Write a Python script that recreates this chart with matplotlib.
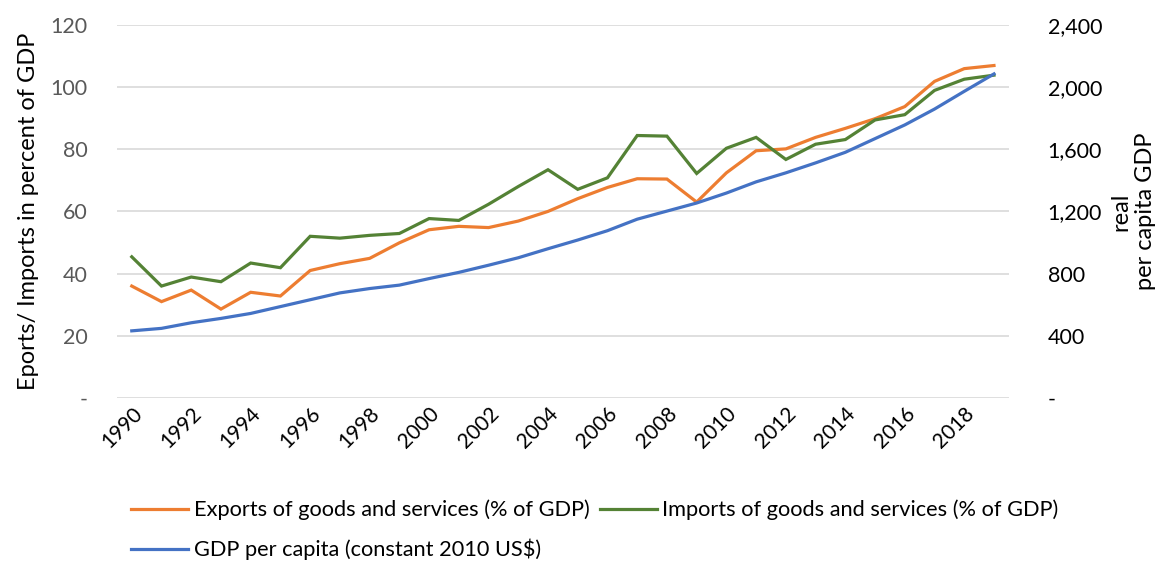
import numpy as np
import matplotlib
matplotlib.use("Agg")
import matplotlib.pyplot as plt
from matplotlib.ticker import FuncFormatter

plt.rcParams['font.family'] = ['Lato', 'DejaVu Sans']

# data
years = list(range(1990, 2020))
exports = [36.0, 31.0, 34.7, 28.6, 34.0, 32.8, 41.0, 43.2, 44.9, 49.9,
           54.1, 55.2, 54.8, 56.9, 60.0, 64.1, 67.7, 70.5, 70.4, 63.0,
           72.4, 79.5, 80.1, 83.8, 86.7, 89.8, 93.7, 101.8, 105.9, 106.9]
imports = [45.4, 36.0, 38.9, 37.4, 43.4, 41.9, 52.0, 51.4, 52.3, 52.9,
           57.7, 57.1, 62.3, 68.0, 73.4, 67.1, 70.8, 84.4, 84.2, 72.2,
           80.3, 83.8, 76.7, 81.6, 83.1, 89.4, 91.1, 98.9, 102.5, 103.8]
gdp_pc = [432, 448, 484, 512, 544, 588, 632, 676, 704, 726,
          768, 808, 854, 902, 960, 1016, 1076, 1150, 1202, 1254,
          1318, 1390, 1448, 1512, 1580, 1668, 1756, 1858, 1972, 2084]

left_ticks = [0, 20, 40, 60, 80, 100, 120]
right_ticks = [0, 400, 800, 1200, 1600, 2000, 2400]
x_ticks = list(range(1990, 2019, 2))

c_exp = '#ED7D31'
c_imp = '#548235'
c_gdp = '#4472C4'

fig = plt.figure(figsize=(11.69, 5.63), dpi=100)
ax = fig.add_axes([0.100, 0.293, 0.763, 0.663])
ax2 = ax.twinx()

l_exp, = ax.plot(years, exports, color=c_exp, lw=2.3, solid_joinstyle='miter',
                 label='Exports of goods and services (% of GDP)')
l_imp, = ax.plot(years, imports, color=c_imp, lw=2.3, solid_joinstyle='miter',
                 label='Imports of goods and services (% of GDP)')
l_gdp, = ax2.plot(years, gdp_pc, color=c_gdp, lw=2.3,
                  label='GDP per capita (constant 2010 US$)')

ax.set_xlim(1989.5, 2019.5)
ax.set_ylim(0, 120)
ax2.set_ylim(0, 2400)
ax.set_yticks(left_ticks)
ax2.set_yticks(right_ticks)
ax.set_xticks(x_ticks)

ax.yaxis.set_major_formatter(FuncFormatter(lambda v, p: '-' if v == 0 else f'{v:.0f}'))
ax2.yaxis.set_major_formatter(FuncFormatter(lambda v, p: '-' if v == 0 else f'{v:,.0f}'))

ax.grid(axis='y', color='#D9D9D9', lw=1.2)
ax.set_axisbelow(True)
for a in (ax, ax2):
    for s in a.spines.values():
        s.set_visible(False)
    a.tick_params(length=0)

ax.tick_params(axis='y', labelsize=15.5, colors='#595959', pad=21)
ax2.tick_params(axis='y', labelsize=15.5, colors='#000000', pad=28)
ax.tick_params(axis='x', labelsize=15, colors='#000000', pad=4)
for lab in ax.get_xticklabels():
    lab.set_rotation(45)
    lab.set_ha('right')
    lab.set_rotation_mode('anchor')

ax.set_ylabel('Eports/ Imports in percent of GDP', fontsize=17, labelpad=8)
ax2.set_ylabel('real\nper capita GDP', fontsize=17, labelpad=6)

fig.legend(handles=[l_exp, l_gdp, l_imp], loc='upper left',
           bbox_to_anchor=(0.105, 0.128), ncol=2, frameon=False,
           fontsize=15.7, handlelength=2.6, handletextpad=0.25,
           columnspacing=0.5, labelspacing=0.85, borderaxespad=0)

fig.savefig('out.png', dpi=100)
